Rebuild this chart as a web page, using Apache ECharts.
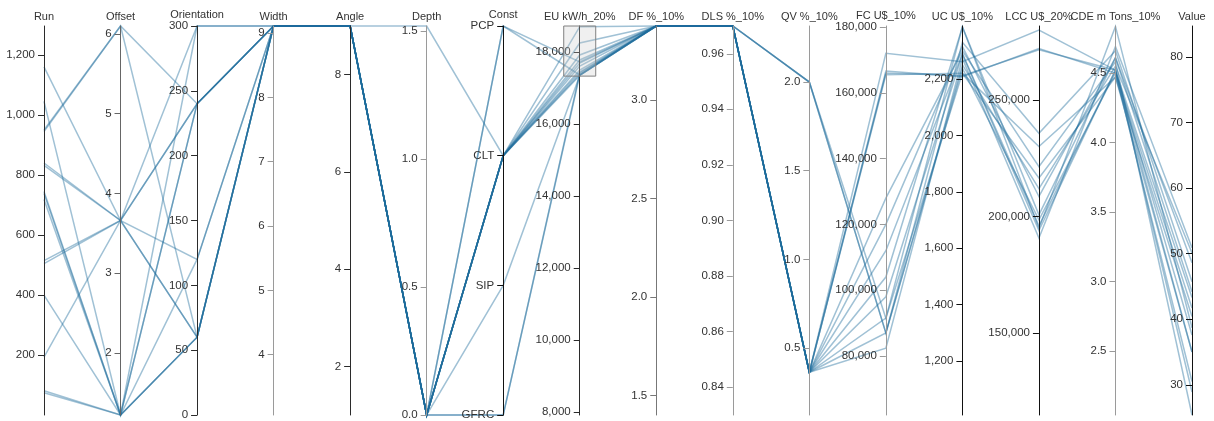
<!DOCTYPE html>
<html>
<head>
<meta charset="utf-8">
<script src="https://cdn.jsdelivr.net/npm/echarts@6/dist/echarts.min.js"></script>
<style>
  html, body { margin: 0; padding: 0; background: #fff; }
  #chart { width: 1214px; height: 421px; }
</style>
</head>
<body>
<div id="chart"></div>
<script>
// Design runs that pass the energy-use filter, one entry per run in each column.
const run         = [1160, 1045, 950, 945, 840, 832, 745, 738, 718, 515, 505, 400, 194, 82, 75];
const offset      = [3.66, 1.22, 6.1, 6.1, 3.66, 3.66, 1.22, 1.22, 1.22, 3.66, 3.66, 1.22, 3.66, 1.22, 1.22];
const orientation = [240, 60, 240, 60, 60, 240, 240, 60, 300, 300, 120, 120, 60, 240, 60];
const width       = [9.11, 9.11, 9.11, 9.11, 9.11, 9.11, 9.11, 9.11, 9.11, 9.11, 9.11, 9.11, 9.11, 9.11, 9.11];
const angle       = [9, 9, 9, 9, 9, 9, 9, 9, 9, 9, 9, 9, 9, 9, 9];
const depth       = [0, 0, 0, 0, 0, 0, 0, 0, 0, 1.52, 0, 0, 0, 0, 0];
const construct   = ['CLT', 'CLT', 'PCP', 'CLT', 'CLT', 'CLT', 'CLT', 'CLT', 'GFRC', 'CLT', 'SIP', 'GFRC', 'PCP', 'CLT', 'CLT'];
const eu          = [17500, 17611, 17722, 18250, 17389, 17444, 17694, 17778, 17417, 18703, 17350, 17361, 17361, 17917, 17350];
const df          = [3.375, 3.375, 3.375, 3.375, 3.375, 3.375, 3.375, 3.375, 3.375, 3.375, 3.375, 3.375, 3.375, 3.375, 3.375];
const dls         = [0.97, 0.97, 0.97, 0.97, 0.97, 0.97, 0.97, 0.97, 0.97, 0.97, 0.97, 0.97, 0.97, 0.97, 0.97];
const qv          = [0.363, 0.363, 0.363, 0.363, 0.363, 2.0, 0.363, 0.363, 0.363, 2.0, 0.363, 0.363, 0.363, 2.0, 0.363];
const fc          = [120000, 104000, 172000, 82400, 87000, 91500, 91500, 98000, 166600, 87000, 166000, 165500, 128000, 87000, 112000];
const uc          = [2315, 2385, 2261, 2273, 2238, 2220, 2385, 2288, 2208, 2330, 2212, 2220, 2300, 2250, 2290];
const lcc         = [208600, 195000, 280000, 190750, 198600, 216500, 200700, 194000, 272000, 235700, 271500, 230000, 221400, 212000, 196000];
const cde         = [4.61, 4.835, 4.52, 4.69, 4.5, 4.47, 4.61, 4.52, 4.5, 4.66, 4.52, 4.47, 4.58, 4.55, 4.52];
const value       = [44.2, 38.7, 37.6, 50.9, 41.7, 35.0, 48.6, 43.3, 30.5, 45.7, 28.9, 40.4, 25.4, 50.1, 35.0];

// Category order along the construction axis, bottom to top.
const constTypes = ['GFRC', 'SIP', 'CLT', 'PCP'];

// Tick labels per axis.
const runTicks    = [200, 400, 600, 800, 1000, 1200];
const offsetTicks = [2, 3, 4, 5, 6];
const orientTicks = [0, 50, 100, 150, 200, 250, 300];
const widthTicks  = [4, 5, 6, 7, 8, 9];
const angleTicks  = [2, 4, 6, 8];
const depthTicks  = [0, 0.5, 1.0, 1.5];
const euTicks     = [8000, 10000, 12000, 14000, 16000, 18000];
const dfTicks     = [1.5, 2.0, 2.5, 3.0];
const dlsTicks    = [0.84, 0.86, 0.88, 0.90, 0.92, 0.94, 0.96];
const qvTicks     = [0.5, 1.0, 1.5, 2.0];
const fcTicks     = [80000, 100000, 120000, 140000, 160000, 180000];
const ucTicks     = [1200, 1400, 1600, 1800, 2000, 2200];
const lccTicks    = [150000, 200000, 250000];
const cdeTicks    = [2.5, 3.0, 3.5, 4.0, 4.5];
const valueTicks  = [30, 40, 50, 60, 70, 80];

// Energy-use window currently brushed on the EU axis.
const euBrush = [17330, 18722];
const EU_DIM = 7;

const FONT = '"Liberation Sans", Arial, sans-serif';
const DARK = '#2b2b2b';
const FAINT = '#9a9a9a';
const LINE_OPACITY = 0.42;

function fmt(decimals) {
  return function (v) {
    return Number(v).toLocaleString('en-US', {
      minimumFractionDigits: decimals,
      maximumFractionDigits: decimals
    });
  };
}

// Ticks and labels sit on the left-hand side of each vertical axis.
function valueAxis(dim, id, name, min, max, ticks, decimals, lineColor) {
  return {
    dim: dim, id: id, name: name, type: 'value', min: min, max: max,
    axisLine: { lineStyle: { color: lineColor, width: 1 } },
    axisTick: { customValues: ticks, length: -6, lineStyle: { color: lineColor } },
    axisLabel: { customValues: ticks, formatter: fmt(decimals) }
  };
}

const axes = [
  valueAxis(0, 'run', 'Run', 1, 1296, runTicks, 0, DARK),
  valueAxis(1, 'offset', 'Offset', 1.22, 6.1, offsetTicks, 0, '#666'),
  valueAxis(2, 'orientation', 'Orientation', 0, 300, orientTicks, 0, DARK),
  valueAxis(3, 'width', 'Width', 3.063, 9.11, widthTicks, 0, FAINT),
  valueAxis(4, 'angle', 'Angle', 1, 9, angleTicks, 0, DARK),
  valueAxis(5, 'depth', 'Depth', 0, 1.52, depthTicks, 1, FAINT),
  {
    dim: 6, id: 'const', name: 'Const', type: 'category', data: constTypes,
    boundaryGap: false,
    axisLine: { lineStyle: { color: '#111', width: 1 } },
    axisTick: { length: -6, lineStyle: { color: '#111' } },
    axisLabel: { interval: 0 }
  },
  valueAxis(7, 'eu', 'EU kW/h_20%', 7917, 18722, euTicks, 0, DARK),
  valueAxis(8, 'df', 'DF %_10%', 1.402, 3.375, dfTicks, 1, '#777'),
  valueAxis(9, 'dls', 'DLS %_10%', 0.8299, 0.97, dlsTicks, 2, FAINT),
  valueAxis(10, 'qv', 'QV %_10%', 0.122, 2.316, qvTicks, 1, FAINT),
  valueAxis(11, 'fc', 'FC U$_10%', 62070, 180300, fcTicks, 0, FAINT),
  valueAxis(12, 'uc', 'UC U$_10%', 1008.5, 2388, ucTicks, 0, '#111'),
  valueAxis(13, 'lcc', 'LCC U$_20%', 114900, 281700, lccTicks, 0, '#111'),
  valueAxis(14, 'cde', 'CDE m Tons_10%', 2.04, 4.838, cdeTicks, 1, FAINT),
  valueAxis(15, 'value', 'Value', 25.4, 84.7, valueTicks, 0, '#111')
];

const rows = run.map(function (_, i) {
  return [run[i], offset[i], orientation[i], width[i], angle[i], depth[i], construct[i],
          eu[i], df[i], dls[i], qv[i], fc[i], uc[i], lcc[i], cde[i], value[i]];
});

const chart = echarts.init(document.getElementById('chart'), null, { renderer: 'canvas' });

chart.setOption({
  animation: false,
  backgroundColor: '#fff',
  textStyle: { fontFamily: FONT },
  parallel: {
    left: 44, right: 22, top: 26, bottom: 6,
    layout: 'horizontal',
    parallelAxisDefault: {
      nameLocation: 'end',
      nameGap: 4,
      nameTruncate: { maxWidth: 300 },
      nameTextStyle: { color: '#333', fontSize: 11, fontFamily: FONT },
      axisLabel: { color: '#333', fontSize: 11.5, margin: -9, align: 'right', fontFamily: FONT }
    }
  },
  parallelAxis: axes,
  series: [{
    type: 'parallel',
    smooth: false,
    lineStyle: { color: '#1c6c9a', width: 1.5, opacity: LINE_OPACITY },
    data: rows
  }]
});

// Brush box marking the selected energy-use window, placed through the
// parallel coordinate system's own data-to-pixel mapping.
(function drawBrush() {
  try {
    const cs = chart.getModel().getComponent('parallel').coordinateSystem;
    const dimName = cs.dimensions[EU_DIM];
    const pLow = cs.dataToPoint(euBrush[0], dimName);
    const pHigh = cs.dataToPoint(euBrush[1], dimName);
    const halfW = 16;
    chart.setOption({
      graphic: [{
        type: 'rect',
        z: 100,
        silent: true,
        shape: {
          x: pLow[0] - halfW,
          y: Math.min(pLow[1], pHigh[1]),
          width: halfW * 2,
          height: Math.abs(pLow[1] - pHigh[1])
        },
        style: { fill: 'rgba(200,200,200,0.28)', stroke: '#808080', lineWidth: 1 }
      }]
    });
  } catch (e) {
    chart.dispatchAction({ type: 'axisAreaSelect', parallelAxisId: 'eu', intervals: [euBrush] });
  }
})();
</script>
</body>
</html>
